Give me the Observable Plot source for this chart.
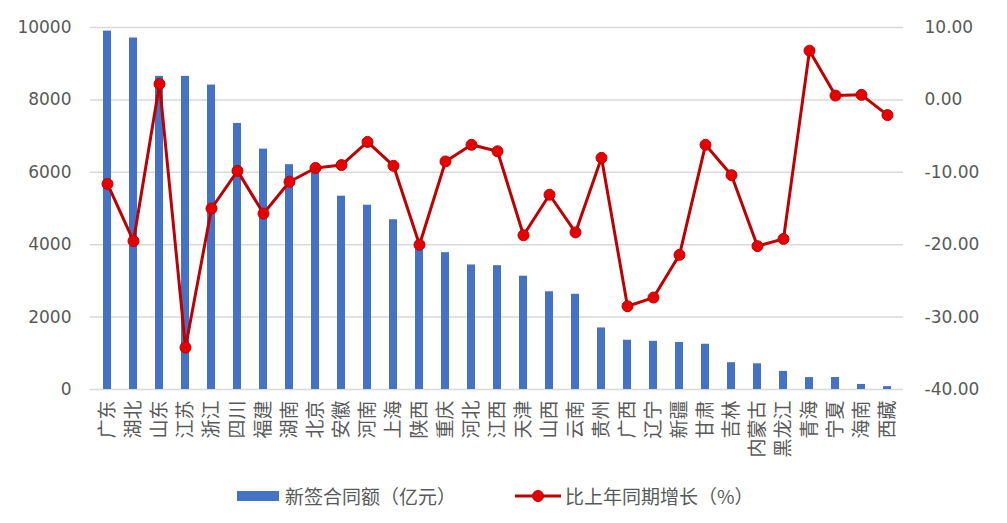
<!DOCTYPE html>
<html><head><meta charset="utf-8">
<script src="https://cdn.jsdelivr.net/npm/d3@7"></script>
<script src="https://cdn.jsdelivr.net/npm/@observablehq/plot@0.6"></script>
<style>
body{margin:0;background:#fff;font-family:"DejaVu Sans","Noto Sans CJK SC",sans-serif;}
#chart svg{display:block;}
#legend{height:53px;position:relative;font-family:"Noto Sans CJK SC",sans-serif;font-size:19px;color:#595959;}
#legend .item{position:absolute;top:12px;display:flex;align-items:center;}
</style></head><body>
<div id="chart"></div>
<div id="legend">
  <div class="item" style="left:237px;"><svg width="42" height="12" style="margin-right:6px"><rect x="0" y="1" width="42" height="10" fill="#4472C4"/></svg><span>新签合同额（亿元）</span></div>
  <div class="item" style="left:515px;"><svg width="46" height="14" style="margin-right:4px"><line x1="0" y1="7" x2="46" y2="7" stroke="#C00000" stroke-width="3"/><circle cx="23" cy="7" r="5.5" fill="#E60000" stroke="#C00000" stroke-width="1"/></svg><span>比上年同期增长（%）</span></div>
</div>
<script>
const provinces = ["广东","湖北","山东","江苏","浙江","四川","福建","湖南","北京","安徽","河南","上海","陕西","重庆","河北","江西","天津","山西","云南","贵州","广西","辽宁","新疆","甘肃","吉林","内蒙古","黑龙江","青海","宁夏","海南","西藏"];
const contractValues = [9900,9710,8650,8650,8410,7350,6640,6210,6050,5340,5090,4690,4080,3780,3440,3420,3130,2700,2630,1700,1360,1330,1300,1250,740,710,500,330,330,140,80];
const growthRates = [-11.6,-19.5,2.2,-34.2,-15.0,-9.8,-15.7,-11.3,-9.4,-9.0,-5.8,-9.1,-20.0,-8.5,-6.2,-7.1,-18.7,-13.1,-18.3,-8.0,-28.5,-27.3,-21.4,-6.2,-10.4,-20.2,-19.2,6.8,0.6,0.7,-2.1];
const leftTicks = [0,2000,4000,6000,8000,10000];
const rightTicks = [-40,-30,-20,-10,0,10];

// map the right-axis range [-40, 10] onto the left-axis range [0, 10000]
const toLeft = v => (v + 40) * 200;
const fromLeft = y => y / 200 - 40;

const bars = provinces.map((p, i) => ({province: p, value: contractValues[i]}));
const line = provinces.map((p, i) => ({province: p, rate: growthRates[i], y: toLeft(growthRates[i])}));

const chart = Plot.plot({
  width: 1007,
  height: 470,
  marginLeft: 90,
  marginRight: 104,
  marginTop: 27,
  marginBottom: 81,
  style: {fontFamily: '"DejaVu Sans","Noto Sans CJK SC",sans-serif', fontSize: "17px", color: "#595959", background: "#fff"},
  x: {domain: provinces, paddingInner: 0.7, paddingOuter: 0.35, align: 0.5},
  y: {domain: [0, 10000]},
  marks: [
    Plot.ruleY(leftTicks, {stroke: "#d9d9d9", strokeWidth: 1.5}),
    Plot.barY(bars, {x: "province", y: "value", fill: "#4472C4"}),
    Plot.lineY(line, {x: "province", y: "y", stroke: "#C00000", strokeWidth: 3}),
    Plot.dot(line, {x: "province", y: "y", r: 5.5, fill: "#E60000", stroke: "#C00000", strokeWidth: 1}),
    Plot.axisY(leftTicks, {anchor: "left", tickSize: 0, tickPadding: 19, label: null, fill: "#595959", fontSize: 17, tickFormat: d => String(d)}),
    Plot.axisY(rightTicks.map(toLeft), {anchor: "right", tickSize: 0, tickPadding: 21, label: null, fill: "#595959", fontSize: 17, tickFormat: d => fromLeft(d).toFixed(2)}),
    Plot.axisX({tickRotate: -90, tickSize: 0, tickPadding: 11, label: null, fill: "#595959", fontSize: 19, fontFamily: '"Noto Sans CJK SC",sans-serif'})
  ]
});
document.getElementById("chart").appendChild(chart);
</script>
</body></html>
